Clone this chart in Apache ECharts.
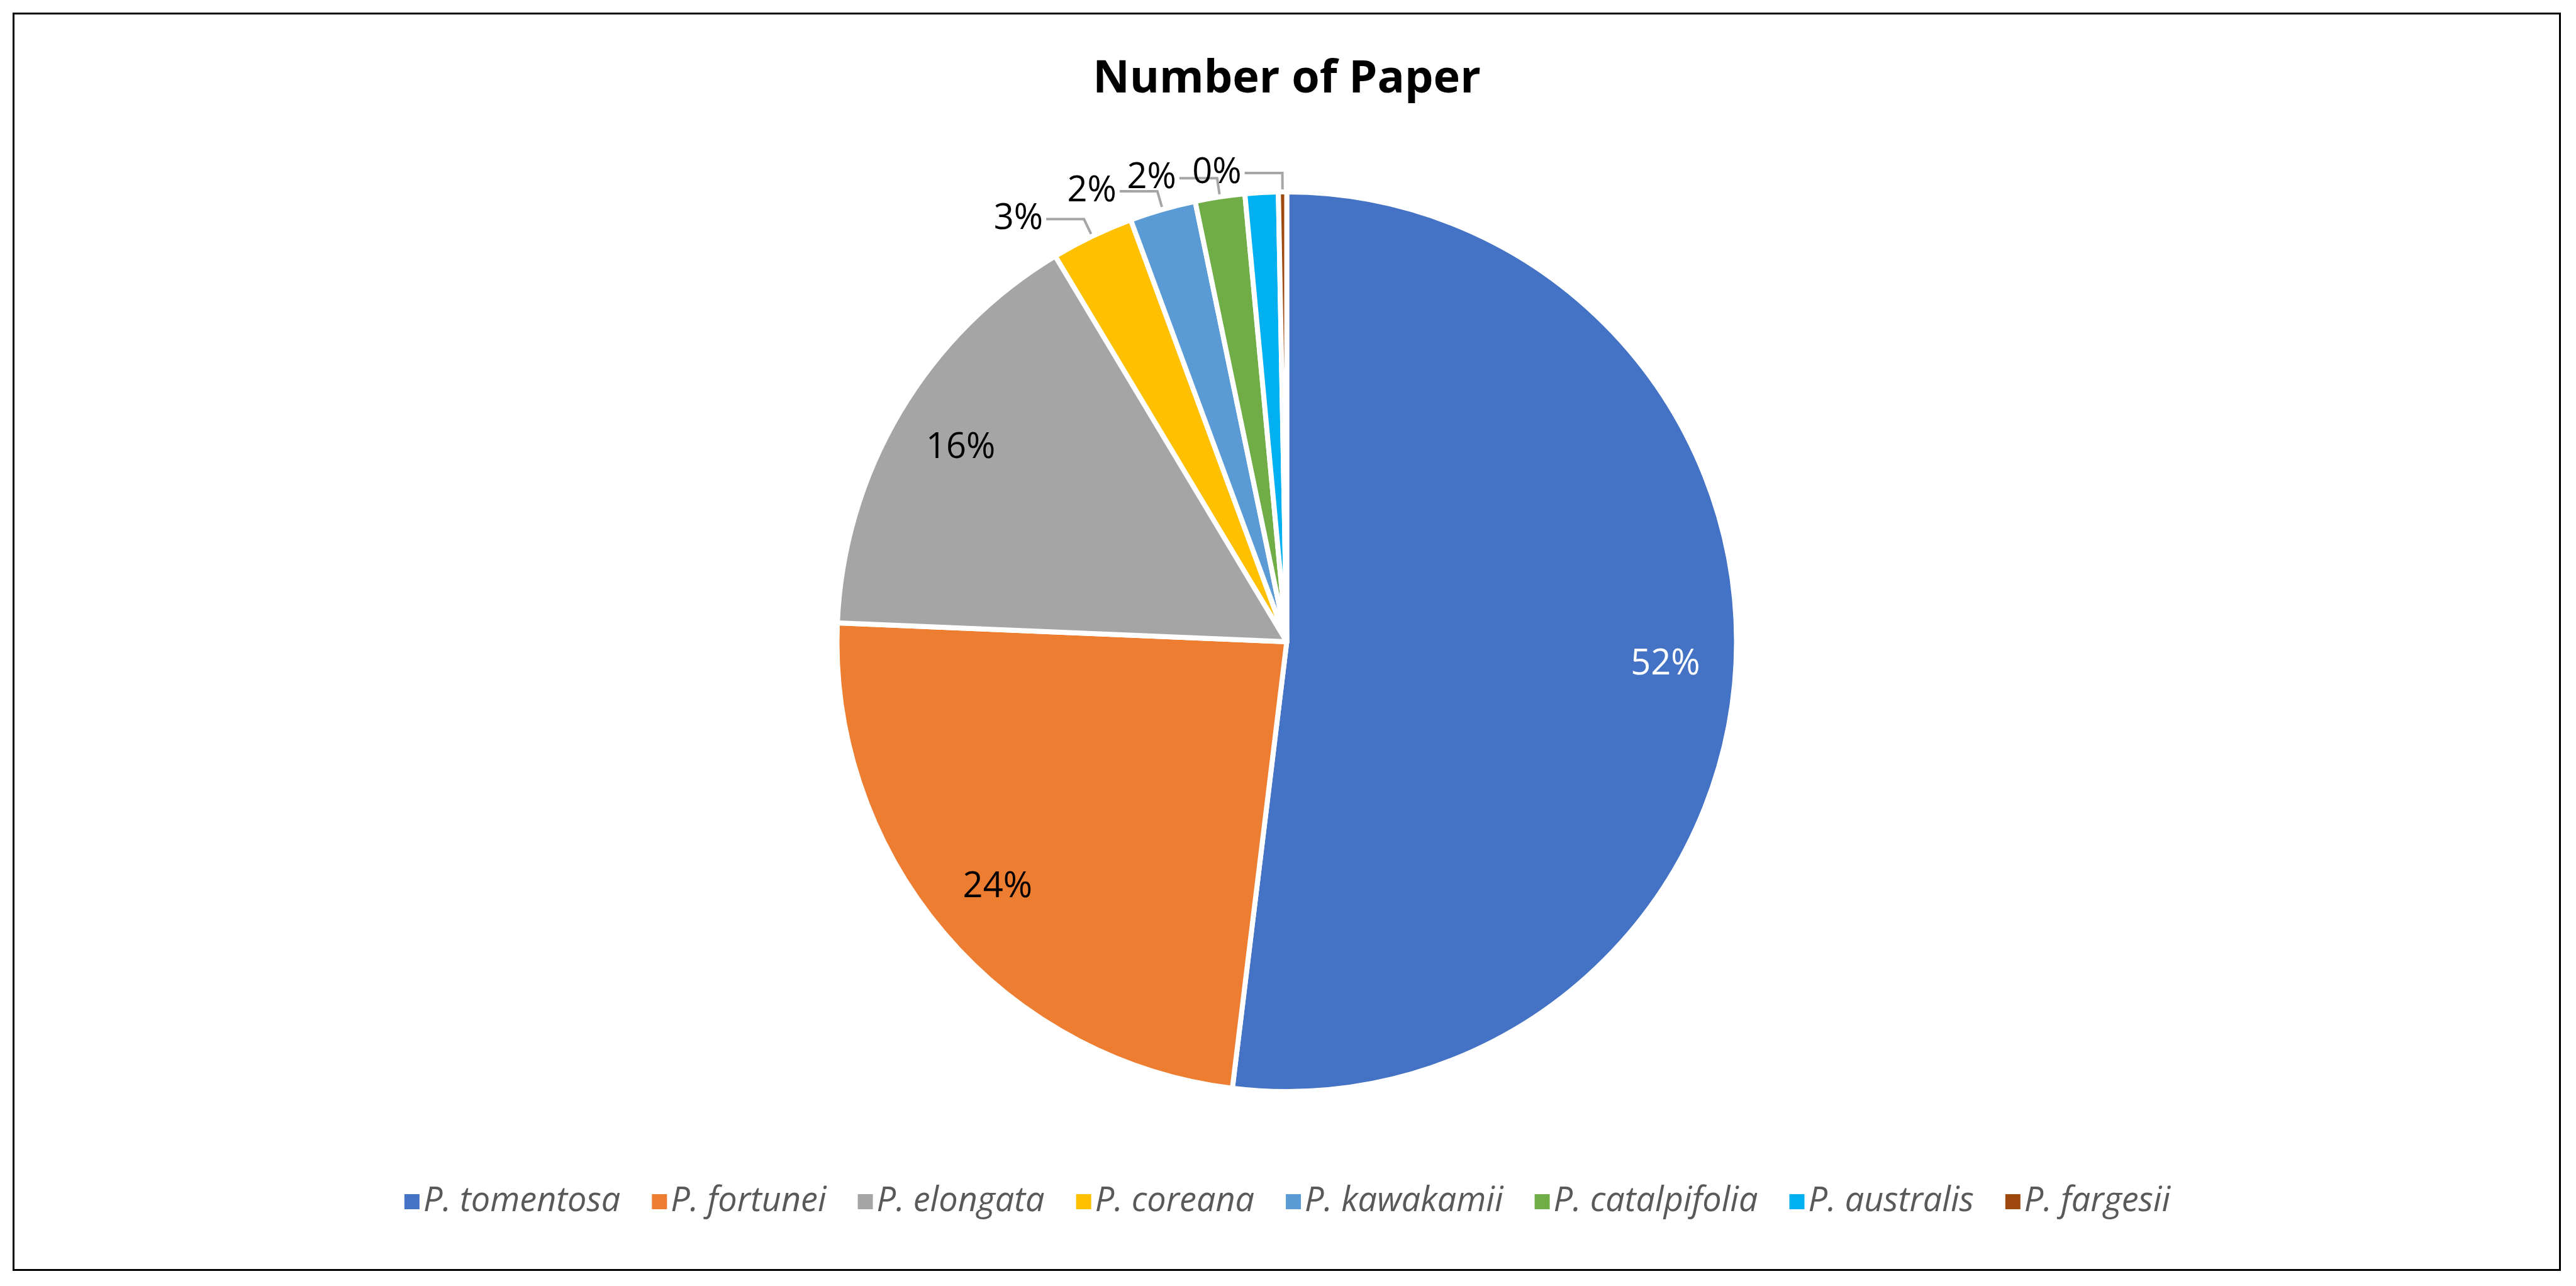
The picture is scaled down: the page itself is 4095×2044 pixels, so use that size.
<!DOCTYPE html>
<html>
<head>
<meta charset="utf-8">
<script src="https://cdn.jsdelivr.net/npm/echarts@6/dist/echarts.min.js"></script>
<style>
html, body { margin: 0; padding: 0; background: #fff; }
#chart { position: absolute; left: 20px; top: 20px; width: 4051px; height: 2000px; border: 3px solid #000; box-sizing: border-box; }
</style>
</head>
<body>
<div id="chart"></div>
<script>
const species = ['P. tomentosa', 'P. fortunei', 'P. elongata', 'P. coreana', 'P. kawakamii', 'P. catalpifolia', 'P. australis', 'P. fargesii'];
const papers = [175, 80, 53, 10, 8, 6, 4, 1];
const colors = ['#4472C4', '#ED7D31', '#A5A5A5', '#FFC000', '#5B9BD5', '#70AD47', '#00B0F0', '#9E480E'];

const fontFamily = 'Open Sans, Liberation Sans, sans-serif';

const mainData = species.map((name, i) => ({
    name: name,
    value: papers[i],
    itemStyle: { color: colors[i] },
    label: { show: i >= 3 },
    labelLine: { show: i >= 3 }
}));

// transparent ring used only to place the big-slice labels near the rim
const labelData = species.map((name, i) => ({
    name: name,
    value: papers[i],
    label: { show: i < 3, color: i === 0 ? '#fff' : '#000' }
}));

const chart = echarts.init(document.getElementById('chart'));
chart.setOption({
    animation: false,
    title: {
        text: 'Number of Paper',
        left: 'center',
        top: 62,
        textStyle: { fontSize: 72, fontWeight: 'bold', color: '#000', fontFamily: fontFamily }
    },
    legend: {
        bottom: 75,
        left: 'center',
        icon: 'rect',
        itemWidth: 26,
        itemHeight: 26,
        itemGap: 48,
        data: species,
        textStyle: { fontSize: 54, fontStyle: 'italic', color: '#595959', fontFamily: fontFamily }
    },
    series: [
        {
            type: 'pie',
            radius: ['0%', 715],
            center: ['50%', '50%'],
            startAngle: 90,
            clockwise: true,
            avoidLabelOverlap: false,
            data: mainData,
            itemStyle: { borderColor: '#fff', borderWidth: 8 },
            label: {
                position: 'outside',
                formatter: p => Math.round(p.percent) + '%',
                fontSize: 56,
                color: '#000',
                fontFamily: fontFamily
            },
            labelLine: { length: 30, length2: 60, lineStyle: { color: '#A6A6A6', width: 4 } },
            emphasis: { disabled: true }
        },
        {
            type: 'pie',
            radius: ['0%', 1200],
            center: ['50%', '50%'],
            startAngle: 90,
            clockwise: true,
            silent: true,
            data: labelData,
            itemStyle: { color: 'rgba(0,0,0,0)' },
            label: {
                position: 'inside',
                formatter: p => Math.round(p.percent) + '%',
                fontSize: 56,
                fontFamily: fontFamily
            },
            labelLine: { show: false },
            z: 5
        }
    ]
});
</script>
</body>
</html>
